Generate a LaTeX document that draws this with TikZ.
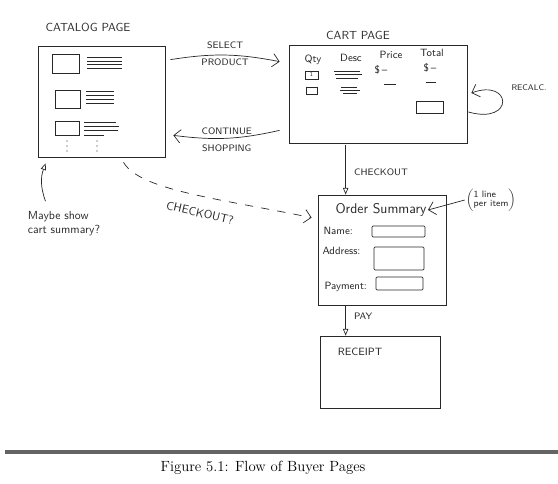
\documentclass[tikz,border=0pt]{standalone}
\usepackage{amsmath}
\usepackage{tikz}
\usetikzlibrary{arrows.meta,positioning,calc,fit}
\definecolor{ink}{RGB}{40,40,40}
\definecolor{rulecol}{RGB}{100,100,100}

\begin{document}
\begin{tikzpicture}[
  x=0.03cm, y=-0.03cm,
  ink, line width=0.6pt,
  page/.style={draw=ink, inner sep=0pt},
  hand/.style={font=\sffamily\footnotesize, text=ink, inner sep=1pt},
  big/.style={font=\sffamily\large, text=ink, inner sep=1pt},
  flow/.style={-{Straight Barb[length=2mm]}, draw=ink},
  down/.style={-{Triangle[open, length=2mm, width=1.6mm]}, draw=ink},
  field/.style={draw=ink, rounded corners=1pt},
]
  \useasboundingbox (0,0) rectangle (558,484);

  % the four pages
  \node[page, fit={(38,46) (165,157)}] (catalog) {};
  \node[page, fit={(289,45) (467,143)}] (cart) {};
  \node[page, fit={(318,195) (446,305)}] (order) {};
  \node[page, fit={(320,336) (440,408)}] (receipt) {};

  \node[font=\sffamily, text=ink] (catalogtitle) at (88,27) {CATALOG PAGE};
  \node[font=\sffamily, text=ink] (carttitle) at (358,35) {CART PAGE};

  % catalog items
  \draw (52,54) rectangle (79,73);
  \draw (55,90) rectangle (80,108);
  \draw (55,121) rectangle (79,135);
  \foreach \y in {57,61,64,68} \draw (87,\y) -- (122,\y);
  \foreach \y in {91,95,99,103} \draw (86,\y) -- (114,\y);
  \foreach \y/\e in {122/116,126/119,130/118,135/104} \draw (84,\y) -- (\e,\y);
  \foreach \x in {67,97} \foreach \y in {141,146,151} \fill (\x,\y) circle (0.7);

  % cart table
  \node[hand, font=\sffamily\small] (qty) at (313,60) {Qty};
  \node[hand, font=\sffamily\small] (desc) at (351,58) {Desc};
  \node[hand, font=\sffamily\small] (price) at (391,55) {Price};
  \node[hand, font=\sffamily\small] (total) at (432,53) {Total};
  \draw (305,71) rectangle (318,79);
  \node[hand, font=\sffamily\tiny] (qtyone) at (311.5,75) {1};
  \draw (306,87) rectangle (317,94);
  \draw (334,71) -- (360,71) (335,74) -- (362,74) (336,78) -- (358,78);
  \draw (341,87) -- (357,87) (340,90) -- (360,90) (343,93) -- (357,93);
  \node[hand, font=\sffamily\small] (pricedol) at (381,70) {\$\,--};
  \node[hand, font=\sffamily\small] (totaldol) at (430,68) {\$\,--};
  \draw (384,84) -- (396,84) (426,82) -- (436,82);
  \draw (416,101) rectangle (443,113);

  % order form
  \node[big] (ordertitle) at (381,210) {Order Summary};
  \node[hand, font=\sffamily\small, anchor=west] (name) at (322,231) {Name:};
  \node[hand, font=\sffamily\small, anchor=west] (address) at (321,251) {Address:};
  \node[hand, font=\sffamily\small, anchor=west] (payment) at (323,287) {Payment:};
  \draw[field] (372,226) rectangle (425,237);
  \draw[field] (374,247) rectangle (424,270);
  \draw[field] (376,277) rectangle (423,290);
  \node[hand, font=\sffamily\footnotesize] (note) at (491,200)
    {$\left(\begin{array}{@{}l@{}}\text{1 line}\\[-2pt]\text{per item}\end{array}\right)$};
  \draw[flow] (note.west) -- (ordertitle.east);

  \node[hand, font=\sffamily\small] (receipttitle) at (360,352) {RECEIPT};

  % flows between pages
  \draw[flow] ($(catalog.north east)+(5,14)$) to[bend left=10]
    node[hand, above=4pt] (selectlbl) {SELECT}
    node[hand, below=2pt] (productlbl) {PRODUCT}
    ($(cart.north west)+(-9,17)$);
  \draw[flow] ($(cart.south west)+(-9,-13)$) to[bend right=-10]
    node[hand, above=2pt] (continuelbl) {CONTINUE}
    node[hand, below=4pt] (shoppinglbl) {SHOPPING}
    ($(catalog.south east)+(8,-22)$);
  \draw[flow] ($(cart.east)+(1,18)$) .. controls (515,125) and (512,78) ..
    ($(cart.east)+(4,-1)$);
  \node[hand, font=\sffamily\scriptsize] (recalc) at (529,88) {RECALC.};

  \draw[down] (cart.south -| order.north west) ++(28,2) coordinate (cko-a)
    -- (cko-a |- order.north) node[hand, midway, right=6pt, yshift=-2pt] (checkoutlbl) {CHECKOUT};
  \draw[down] (order.south -| cko-a) ++(0,1) coordinate (pay-a)
    -- (pay-a |- receipt.north) node[hand, midway, right=6pt, yshift=4pt] (paylbl) {PAY};

  \draw[flow, dashed, dash pattern=on 7pt off 7pt] ($(catalog.south)+(22,5)$)
    .. controls (140,190) and (215,198) .. ($(order.north west)+(-6,23)$);
  \node[hand, font=\sffamily\normalsize, rotate=-13] (checkoutq) at (200,213) {CHECKOUT?};

  % side note
  \node[font=\sffamily, text=ink, align=left, inner sep=1pt] (maybe) at (64,224)
    {Maybe show\\cart summary?};
  \draw[down] ($(maybe.north west)+(19,-9)$) to[bend left=20]
    ($(catalog.south west)+(8,6)$);

  % caption
  \draw[rulecol, line width=3.5pt] (5,452) -- (558,452);
  \node[font=\fontsize{12.6}{15}\selectfont, text=black] (caption) at (263,468)
    {Figure 5.1: Flow of Buyer Pages};
\end{tikzpicture}
\end{document}
